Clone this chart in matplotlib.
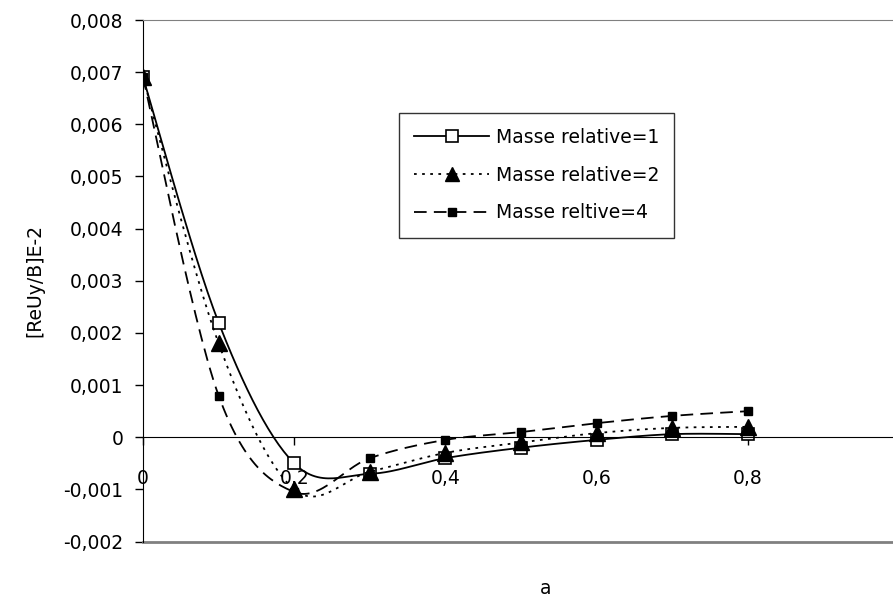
import numpy as np
import matplotlib
matplotlib.use('Agg')
import matplotlib.pyplot as plt

plt.rcParams['font.family'] = ['DejaVu Sans']

a = [0.0, 0.1, 0.2, 0.3, 0.4, 0.5, 0.6, 0.7, 0.8]
masse1 = [0.0069, 0.0022, -0.0005, -0.0007, -0.0004, -0.0002, -0.00005, 0.00006, 0.00006]
masse2 = [0.0069, 0.0018, -0.0010, -0.00066, -0.0003, -0.0001, 0.00008, 0.00018, 0.0002]
masse4 = [0.0069, 0.0008, -0.00105, -0.0004, -0.00005, 0.0001, 0.00027, 0.00041, 0.0005]
labels = ['Masse relative=1', 'Masse relative=2', 'Masse reltive=4']

yticks = [-0.002, -0.001, 0, 0.001, 0.002, 0.003, 0.004, 0.005, 0.006, 0.007, 0.008]
ytick_labels = ['-0,002', '-0,001', '0', '0,001', '0,002', '0,003', '0,004',
                '0,005', '0,006', '0,007', '0,008']
xticks = [0, 0.2, 0.4, 0.6, 0.8]
xtick_labels = ['0', '0,2', '0,4', '0,6', '0,8']


def smooth(x, y, n=30):
    # excel-like smoothed line (catmull-rom / bezier)
    x = np.asarray(x, float)
    y = np.asarray(y, float)
    xs, ys = [], []
    for i in range(len(x) - 1):
        i0 = max(i - 1, 0)
        i3 = min(i + 2, len(x) - 1)
        p0 = np.array([x[i], y[i]])
        p3 = np.array([x[i + 1], y[i + 1]])
        p1 = p0 + (p3 - np.array([x[i0], y[i0]])) / 6
        p2 = p3 - (np.array([x[i3], y[i3]]) - p0) / 6
        t = np.linspace(0, 1, n)[:, None]
        pts = ((1 - t) ** 3) * p0 + 3 * ((1 - t) ** 2) * t * p1 + 3 * (1 - t) * t ** 2 * p2 + t ** 3 * p3
        xs.extend(pts[:, 0])
        ys.extend(pts[:, 1])
    return xs, ys


W, H = 893, 600
fs = 13.5
fig = plt.figure(figsize=(W / 100, H / 100), dpi=100)
left, right, top, bottom = 143, 899, 20, 541.6
ax = fig.add_axes([left / W, 1 - bottom / H, (right - left) / W, (bottom - top) / H])
ax.set_xlim(0, 1)
ax.set_ylim(-0.002, 0.008)

styles = [
    dict(ls='-', marker='s', ms=9, mfc='white', mec='black', mew=1.2),
    dict(ls=(0, (1.5, 3)), marker='^', ms=11, mfc='black', mec='black'),
    dict(ls=(0, (7, 4)), marker='s', ms=6, mfc='black', mec='black'),
]
leg_ms = [8, 10, 6]
for ys, lab, st, lms in zip([masse1, masse2, masse4], labels, styles, leg_ms):
    sx, sy = smooth(a, ys)
    ax.plot(sx, sy, color='black', lw=1.3, ls=st['ls'])
    ax.plot(a, ys, ls='none', marker=st['marker'], ms=st['ms'], mfc=st['mfc'],
            mec=st['mec'], mew=st.get('mew', 1))
    # legend proxy
    proxy = dict(st)
    proxy['ms'] = lms
    ax.plot([], [], color='black', lw=1.3, label=lab, **proxy)

ax.spines['right'].set_visible(False)
ax.spines['top'].set_color('#808080')
ax.spines['left'].set_color('black')
ax.spines['bottom'].set_position(('data', 0))
ax.spines['bottom'].set_color('black')
ax.axhline(-0.002, color='#808080', lw=2, clip_on=False)

ax.set_yticks(yticks)
ax.set_yticklabels(ytick_labels)
ax.set_xticks(xticks)
ax.set_xticklabels(xtick_labels)
ax.tick_params(axis='y', direction='out', length=6, width=1, pad=8, labelsize=fs)
ax.tick_params(axis='x', direction='out', length=6, width=1, pad=17, labelsize=fs)

ax.set_ylabel('[ReUy/B]E-2', fontsize=fs)
ax.yaxis.set_label_coords(-0.131, 0.5)
fig.text(546 / W, 1 - 588 / H, 'a', ha='center', va='center', fontsize=fs)

leg = ax.legend(loc='upper left', bbox_to_anchor=(399 / W, 1 - 113 / H),
                bbox_transform=fig.transFigure, fontsize=fs, frameon=True,
                fancybox=False, edgecolor='black', handlelength=4.0,
                handletextpad=0.35, borderpad=0.8, labelspacing=1.0,
                borderaxespad=0)
leg.get_frame().set_linewidth(1.0)

fig.savefig('out.png', dpi=100)
